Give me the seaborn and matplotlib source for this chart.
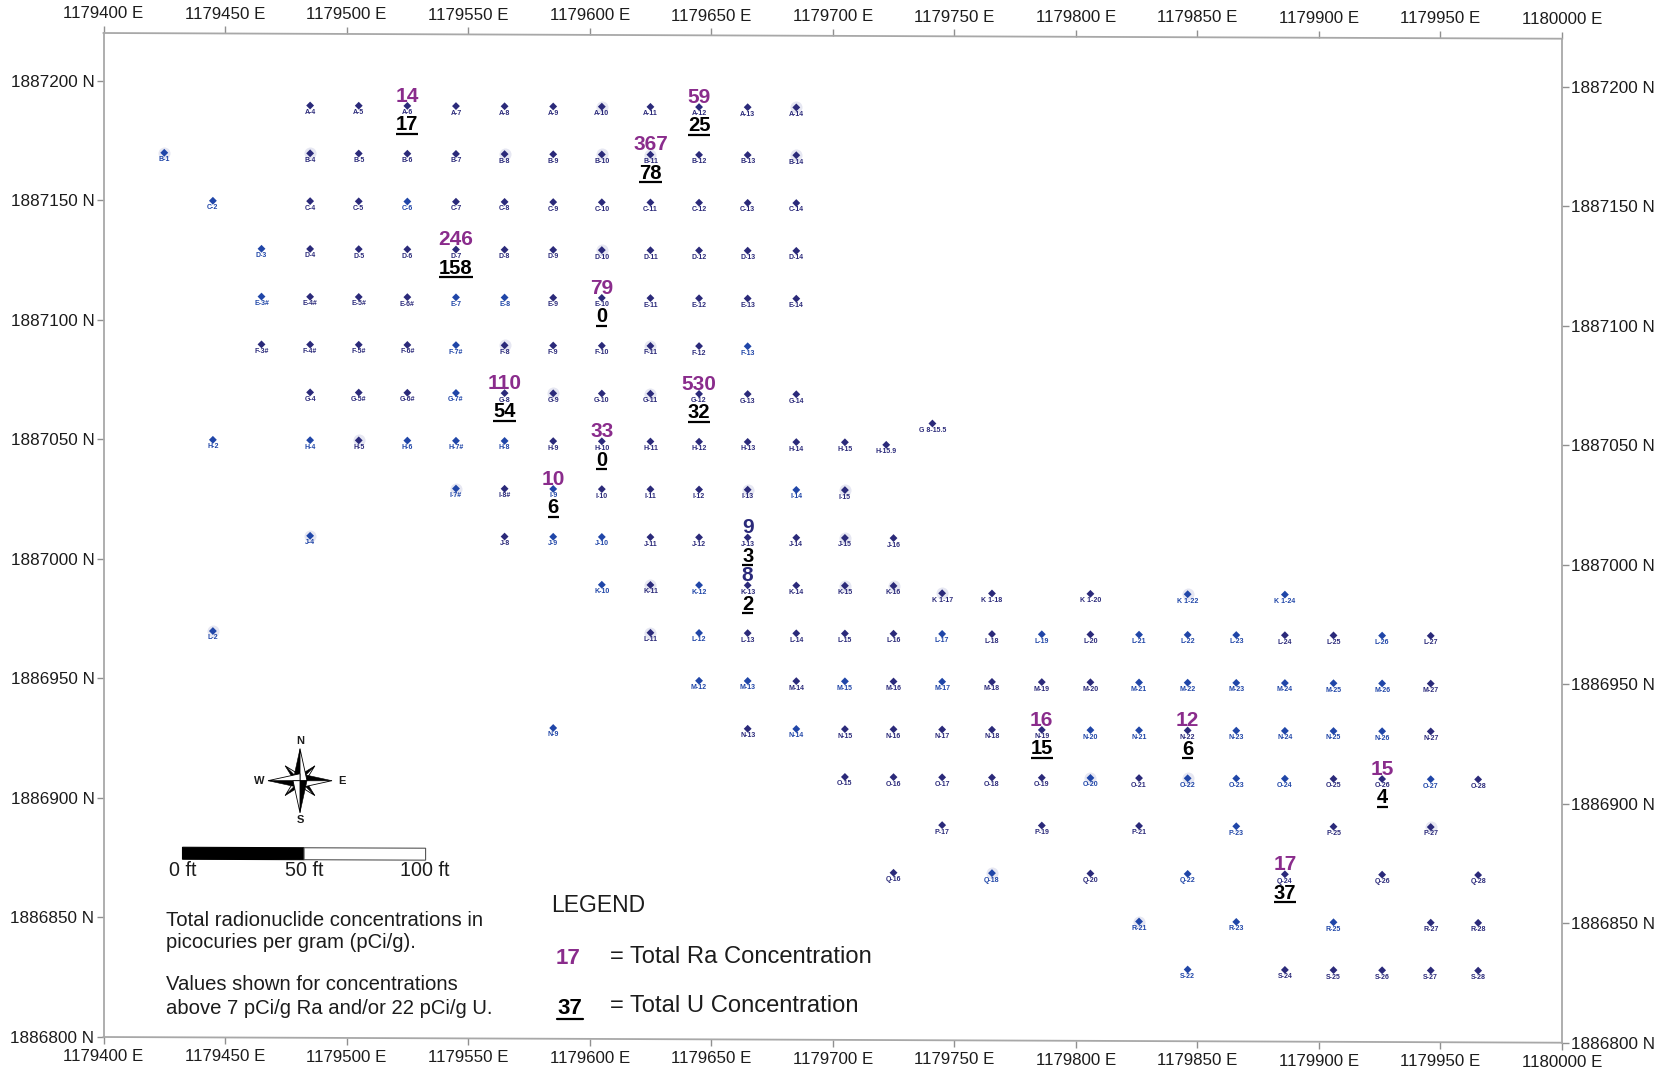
import numpy as np
import pandas as pd
import matplotlib
matplotlib.use("Agg")
import matplotlib.pyplot as plt
import matplotlib.transforms as mtransforms
from matplotlib.lines import Line2D
from matplotlib.patches import Rectangle
import seaborn as sns

W, H = 1667, 1071

# grid lookups (feet)
column_east = {1: 1179425, 2: 1179445, 3: 1179465, 4: 1179485, 5: 1179505, 6: 1179525, 7: 1179545,
               8: 1179565, 9: 1179585, 10: 1179605, 11: 1179625, 12: 1179645, 13: 1179665, 14: 1179685,
               15: 1179705, 16: 1179725, 17: 1179745, 18: 1179765.5, 19: 1179786, 20: 1179806, 21: 1179826,
               22: 1179846, 23: 1179866, 24: 1179886, 25: 1179906, 26: 1179926, 27: 1179946, 28: 1179965.5}
row_north = {"A": 1887190, "B": 1887170, "C": 1887150, "D": 1887130, "E": 1887110, "F": 1887090,
             "G": 1887070, "H": 1887050, "I": 1887030, "J": 1887010, "K": 1886990, "K 1": 1886987,
             "L": 1886970, "M": 1886950, "N": 1886930, "O": 1886910, "P": 1886890, "Q": 1886870,
             "R": 1886850, "S": 1886830}

# which columns have a well in each row
row_columns = {
    "A": [4, 5, 6, 7, 8, 9, 10, 11, 12, 13, 14],
    "B": [1, 4, 5, 6, 7, 8, 9, 10, 11, 12, 13, 14],
    "C": [2, 4, 5, 6, 7, 8, 9, 10, 11, 12, 13, 14],
    "D": [3, 4, 5, 6, 7, 8, 9, 10, 11, 12, 13, 14],
    "E": [3, 4, 5, 6, 7, 8, 9, 10, 11, 12, 13, 14],
    "F": [3, 4, 5, 6, 7, 8, 9, 10, 11, 12, 13],
    "G": [4, 5, 6, 7, 8, 9, 10, 11, 12, 13, 14],
    "H": [2, 4, 5, 6, 7, 8, 9, 10, 11, 12, 13, 14, 15],
    "I": [7, 8, 9, 10, 11, 12, 13, 14, 15],
    "J": [4, 8, 9, 10, 11, 12, 13, 14, 15, 16],
    "K": [10, 11, 12, 13, 14, 15, 16],
    "K 1": [17, 18, 20, 22, 24],
    "L": [2, 11, 12, 13, 14, 15, 16, 17, 18, 19, 20, 21, 22, 23, 24, 25, 26, 27],
    "M": [12, 13, 14, 15, 16, 17, 18, 19, 20, 21, 22, 23, 24, 25, 26, 27],
    "N": [9, 13, 14, 15, 16, 17, 18, 19, 20, 21, 22, 23, 24, 25, 26, 27],
    "O": [15, 16, 17, 18, 19, 20, 21, 22, 23, 24, 25, 26, 27, 28],
    "P": [17, 19, 21, 23, 25, 27],
    "Q": [16, 18, 20, 22, 24, 26, 28],
    "R": [21, 23, 25, 27, 28],
    "S": [22, 24, 25, 26, 27, 28],
}
hash_wells = ["E-3", "E-4", "E-5", "E-6", "F-3", "F-4", "F-5", "F-6", "F-7", "G-5", "G-6", "G-7",
              "H-7", "I-7", "I-8"]
extra_names = ["G 8-15.5", "H-15.9"]
extra_east = [1179741, 1179722]
extra_north = [1887058, 1887049]

blue_wells = ["B-1", "C-2", "C-6", "D-3", "E-3#", "E-7", "E-8", "F-7#", "F-13", "G-7#", "H-2", "H-4", "H-6",
              "H-7#", "H-8", "I-7#", "I-9", "I-14", "J-4", "J-9", "J-10", "K-10", "K-12", "L-2", "L-12",
              "L-17", "L-19", "L-21", "L-22", "L-23", "L-26", "M-12", "M-13", "M-15", "M-17", "M-21",
              "M-22", "M-23", "M-24", "M-25", "M-26", "N-9", "N-14", "N-20", "N-21", "N-23", "N-24",
              "N-25", "N-26", "O-20", "O-22", "O-23", "O-24", "O-27", "P-23", "Q-18", "Q-22", "R-21",
              "R-23", "R-25", "S-22", "K 1-22", "K 1-24"]
smudged_wells = ["A-10", "A-14", "B-1", "B-4", "B-8", "B-10", "B-11", "B-14", "D-10", "F-8", "F-11", "G-9",
                 "G-11", "H-5", "I-7#", "I-13", "I-15", "J-4", "J-15", "K-11", "K-15", "K-16", "K 1-17",
                 "K 1-22", "L-2", "L-11", "O-20", "O-22", "P-27", "Q-18", "R-21"]

# totals printed on the map
assay_wells = ["A-6", "A-12", "B-11", "D-7", "E-10", "G-8", "G-12", "H-10", "I-9", "J-13", "K-13", "N-19",
               "N-22", "O-26", "Q-24"]
ra_values = [14, 59, 367, 246, 79, 110, 530, 33, 10, 9, 8, 16, 12, 15, 17]
u_values = [17, 25, 78, 158, 0, 54, 32, 0, 6, 3, 2, 15, 6, 4, 37]
navy_ra_wells = ["J-13", "K-13"]

x_ticks = [1179400, 1179450, 1179500, 1179550, 1179600, 1179650, 1179700, 1179750, 1179800, 1179850,
           1179900, 1179950, 1180000]
y_ticks = [1886800, 1886850, 1886900, 1886950, 1887000, 1887050, 1887100, 1887150, 1887200]

NAVY = "#2b2a7a"
BLUE = "#2046a8"
PURPLE = "#8a2c8c"
GREY = "#a8a8a8"
INK = "#1c1c1c"

rows = []
for row, cols in row_columns.items():
    for c in cols:
        name = f"{row}-{c}"
        rows.append({"name": name + "#" if name in hash_wells else name,
                     "key": name, "east": column_east[c], "north": row_north[row]})
for n, e, nn in zip(extra_names, extra_east, extra_north):
    rows.append({"name": n, "key": n, "east": e, "north": nn})
wells = pd.DataFrame(rows)
wells["tint"] = np.where(wells["name"].isin(blue_wells), "blue", "navy")

sns.set_theme(style="white")
plt.rcParams["font.family"] = ["Liberation Sans", "DejaVu Sans"]

fig = plt.figure(figsize=(W / 100, H / 100), dpi=100, facecolor="white")
ax = fig.add_axes([103.5 / W, 1 - 1037 / H, (1562 - 103.5) / W, (1037 - 33) / H])
ax.set_xlim(1179400, 1180000)
ax.set_ylim(1886800, 1887220)
ax.set_xticks(x_ticks, [f"{v} E" for v in x_ticks])
ax.set_yticks(y_ticks, [f"{v} N" for v in y_ticks])
ax.tick_params(axis="x", top=True, bottom=True, labeltop=True, labelbottom=True, length=5, width=1,
               color="#909090", labelsize=12.2, labelcolor=INK, pad=3.5)
ax.tick_params(axis="y", left=True, right=True, labelleft=True, labelright=True, length=5, width=1,
               color="#909090", labelsize=12.3, labelcolor=INK, pad=1.5)

# the scanned sheet sags about 6 px from left to right
k = -5.7 / (1562 - 103.5)
skew = mtransforms.Affine2D(np.array([[1, 0, 0], [k, 1, -k * 103.5], [0, 0, 1]]))
data_skew = ax.transData + skew
for axis in (ax.xaxis, ax.yaxis):
    for tick in axis.get_major_ticks():
        for art in (tick.tick1line, tick.tick2line, tick.label1, tick.label2):
            art.set_transform(art.get_transform() + skew)
for sp in ax.spines.values():
    sp.set_transform(sp.get_transform() + skew)
    sp.set_color(GREY)
    sp.set_linewidth(1.3)

# smudges from the scan, then the wells
smudged = wells[wells["name"].isin(smudged_wells)]
sns.scatterplot(data=smudged, x="east", y="north", ax=ax, s=75, marker="o", color="#8f93c4", alpha=0.22,
                linewidth=0, transform=data_skew, clip_on=False, legend=False)
sns.scatterplot(data=wells, x="east", y="north", hue="tint", palette={"navy": NAVY, "blue": BLUE}, ax=ax,
                s=16, marker="D", linewidth=0, transform=data_skew, clip_on=False, legend=False)
ax.set_xlabel("")
ax.set_ylabel("")

for _, w in wells.iterrows():
    ax.annotate(w["name"], (w["east"], w["north"]), xycoords=data_skew, xytext=(0, -5),
                textcoords="offset points", ha="center", va="center", fontsize=5, fontweight="bold",
                color=BLUE if w["tint"] == "blue" else NAVY, annotation_clip=False)

assays = wells.set_index("key").loc[assay_wells]
for (key, w), ra, u in zip(assays.iterrows(), ra_values, u_values):
    ax.annotate(str(ra), (w["east"], w["north"]), xycoords=data_skew, xytext=(0, 7),
                textcoords="offset points", ha="center", va="center", fontsize=15, fontweight="bold",
                color=NAVY if key in navy_ra_wells else PURPLE, annotation_clip=False)
    ax.annotate(str(u), (w["east"], w["north"]), xycoords=data_skew, xytext=(0, -13.5),
                textcoords="offset points", ha="center", va="center", fontsize=14.5, fontweight="bold",
                color="black", annotation_clip=False)

# underlines under the U totals
under = mtransforms.offset_copy(data_skew, fig=fig, y=-20, units="points")
ax.scatter(assays["east"], assays["north"], marker="_", color="black", linewidths=1.6, clip_on=False,
           s=[(8 * len(str(u))) ** 2 for u in u_values], transform=under)

# scale bar, 100 ft long on the map's own scale
ax.add_patch(Rectangle((1179432.5, 1886874.5), 50, 5, facecolor="black", edgecolor="black", linewidth=0.8,
                       transform=data_skew, clip_on=False))
ax.add_patch(Rectangle((1179482.5, 1886874.5), 50, 5, facecolor="white", edgecolor="#555555", linewidth=0.8,
                       transform=data_skew, clip_on=False))


def put(px, py, s, **kw):
    kw.setdefault("color", INK)
    kw.setdefault("va", "center")
    fig.text(px / W, 1 - py / H, s, **kw)


put(182.5, 871, "0 ft", fontsize=14.2, ha="center")
put(304, 871, "50 ft", fontsize=14.2, ha="center")
put(425, 871, "100 ft", fontsize=14.2, ha="center")

put(166, 921, "Total radionuclide concentrations in", fontsize=14.6)
put(166, 943, "picocuries per gram (pCi/g).", fontsize=14.6)
put(166, 985, "Values shown for concentrations", fontsize=14.6)
put(166, 1008, "above 7 pCi/g Ra and/or 22 pCi/g U.", fontsize=14.6)

put(551, 906, "LEGEND", fontsize=16.5)
put(568, 959, "17", fontsize=16, fontweight="bold", color=PURPLE, ha="center")
put(610, 957, "= Total Ra Concentration", fontsize=17.1)
put(570, 1008, "37", fontsize=16, fontweight="bold", color="black", ha="center")
put(610, 1006, "= Total U Concentration", fontsize=17.1)
fig.add_artist(Line2D([557 / W, 583 / W], [1 - 1019 / H, 1 - 1019 / H], color="black", linewidth=1.6))

# compass rose in its own small axes, pixel sized
cx, cy, R = 300, 780.7, 34
rose = fig.add_axes([(cx - R) / W, 1 - (cy + R) / H, 2 * R / W, 2 * R / H])
rose.set_xlim(-R, R)
rose.set_ylim(-R, R)
rose.axis("off")
for deg, reach, waist in [(45, 21, 5), (135, 21, 5), (225, 21, 5), (315, 21, 5),
                          (0, 32, 7), (90, 32, 7), (180, 32, 7), (270, 32, 7)]:
    a = np.radians(deg)
    tip = reach * np.array([np.cos(a), np.sin(a)])
    left = waist * np.array([np.cos(a + np.pi / 2), np.sin(a + np.pi / 2)])
    right = -left
    rose.fill(*zip((0, 0), tip, left), color="black", linewidth=0.4)
    rose.fill(*zip((0, 0), tip, right), facecolor="white", edgecolor="black", linewidth=0.6)
put(300, 741, "N", fontsize=8, fontweight="bold", ha="center")
put(300, 820, "S", fontsize=8, fontweight="bold", ha="center")
put(259, 781, "W", fontsize=8, fontweight="bold", ha="center")
put(341.5, 781, "E", fontsize=8, fontweight="bold", ha="center")

fig.savefig("out.png", dpi=100, facecolor="white")
